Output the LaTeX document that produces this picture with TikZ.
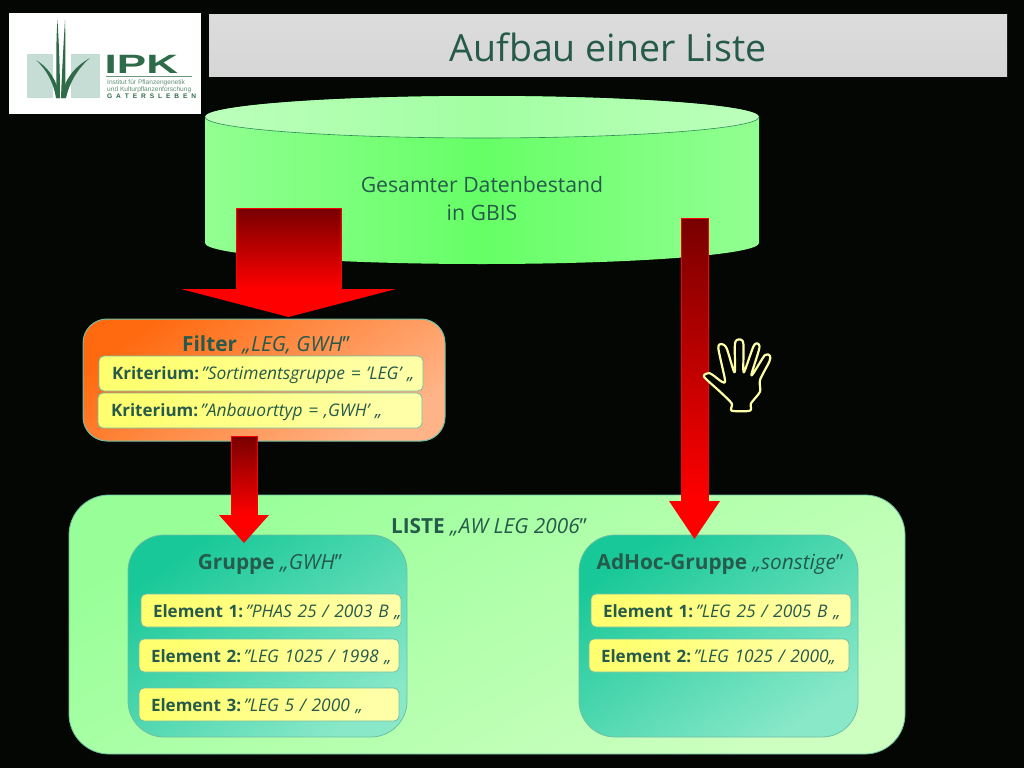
\documentclass[tikz,border=0pt]{standalone}
\usepackage{fontspec}
\usepackage{graphicx}
\setmainfont{Open Sans}
\newfontfamily\logofont{Liberation Sans}
\usetikzlibrary{calc}
\definecolor{bgblack}{HTML}{030603}
\definecolor{inkgreen}{HTML}{265A4A}
\definecolor{edgeteal}{HTML}{6FBFA5}
\definecolor{logogreen}{HTML}{2E6B48}
\definecolor{logopale}{HTML}{C6DDD6}
\definecolor{arrowdark}{HTML}{780000}
\definecolor{arrowred}{HTML}{FF0000}
\definecolor{yellowa}{HTML}{FFFF70}
\definecolor{yellowb}{HTML}{FFFFA8}
\definecolor{tealA}{HTML}{18C898}
\definecolor{tealB}{HTML}{88E8C8}
\definecolor{barA}{HTML}{DCDCDC}
\definecolor{barB}{HTML}{D6D6D6}
\definecolor{cylA}{HTML}{92FF92}
\definecolor{cylB}{HTML}{66FF66}
\definecolor{capA}{HTML}{BCFFBC}
\definecolor{capB}{HTML}{A2FFA2}
\definecolor{capedge}{HTML}{2E8B57}
\definecolor{orangeA}{HTML}{FF6A10}
\definecolor{orangeB}{HTML}{FFB488}
\definecolor{listA}{HTML}{98FF98}
\definecolor{listB}{HTML}{CCFFC0}
\tikzset{
  boxtext/.style={text=inkgreen,font=\fontsize{17}{20}\selectfont},
  elbox/.style={rounded corners=5pt,draw=edgeteal,line width=0.8pt,top color=yellowa,bottom color=yellowb,
    shading angle=60,minimum width=260pt,minimum height=33pt,text width=252pt,inner xsep=4pt,inner ysep=0pt,align=left,boxtext},
  kritbox/.style={elbox,minimum width=324pt,minimum height=35pt,text width=316pt},
  groupbox/.style={rounded corners=36pt,draw=edgeteal,line width=0.8pt,top color=tealA,bottom color=tealB,
    shading angle=35,minimum width=279pt,minimum height=202pt,inner sep=0pt},
  heading/.style={text=inkgreen,font=\fontsize{20.8}{24}\selectfont,inner sep=0pt},
  cyltext/.style={text=inkgreen,font=\fontsize{21.2}{28}\selectfont,align=center,inner sep=0pt},
}
\newcommand{\dq}{\symbol{34}}
\newcommand{\sq}{\symbol{39}}
\newcommand{\rowtext}[4]{\hspace*{#1pt}\raisebox{-#4pt}[0pt][0pt]{\textbf{#2}\hspace{2.5pt}{\fontsize{17.4}{20}\selectfont\textit{#3}}}}
\newcommand{\gs}{\hspace{3.9pt}}
\newcommand{\blockarrow}[5]{%
  \shade[top color=arrowdark,bottom color=arrowred,draw=arrowred,line width=0.4pt] let \p1=(#1),\p2=(#2) in
    (\x1-#3pt,\y1) rectangle (\x1+#3pt,\y2+#5pt);
  \fill[arrowred] let \p1=(#1),\p2=(#2) in
    (\x1-#4pt,\y2+#5pt) -- (\x1+#4pt,\y2+#5pt) -- (\x2,\y2) -- cycle;
}
\begin{document}
\begin{tikzpicture}[x=1pt,y=-1pt]
\useasboundingbox (0,0) rectangle (1024,768);
\fill[bgblack] (0,0) rectangle (1024,768);

% logo
\fill[white] (9,13) rectangle (201,114);
\fill[logopale] (27,54) rectangle (53,98);
\fill[logopale] (71,54) rectangle (100,98);
\fill[logogreen] (56,98) .. controls (57,70) and (55.5,45) .. (57.5,20) .. controls (59,45) and (60,70) .. (60,98) -- cycle;
\fill[logogreen] (61,98) .. controls (62,70) and (63.5,45) .. (65,20) .. controls (65.8,45) and (65.5,70) .. (65,98) -- cycle;
\fill[logogreen] (56,98) .. controls (54,84) and (47,70) .. (36,60) .. controls (49,68) and (57,80) .. (60,98) -- cycle;
\fill[logogreen] (61,98) .. controls (64,80) and (74,67) .. (90,58) .. controls (77,69) and (69,84) .. (66,98) -- cycle;
\node[text=logogreen,font=\logofont\fontsize{26.5}{26.5}\bfseries\selectfont,inner sep=0pt,anchor=base west] (ipk) at (104.5,74) {\scalebox{1.66}[1]{IPK}};
\draw[logogreen!70,line width=0.6pt] (106,76.5) -- (192,76.5);
\node[text=logogreen!75,font=\logofont\fontsize{6.6}{6.6}\selectfont,inner sep=0pt,anchor=base west] (ipka) at (107,84) {Institut für Pflanzengenetik};
\node[text=logogreen!75,font=\logofont\fontsize{6.6}{6.6}\selectfont,inner sep=0pt,anchor=base west] (ipkb) at (107,91) {und Kulturpflanzenforschung};
\node[text=logogreen,font=\logofont\fontsize{6.6}{6.6}\bfseries\selectfont,inner sep=0pt,anchor=base west] (ipkc) at (107,98.5) {G\gs A\gs T\gs E\gs R\gs S\gs L\gs E\gs B\gs E\gs N};

% title
\shade[top color=barA,bottom color=barB] (209,15) rectangle (1007,76);
\node[text=inkgreen,font=\fontsize{37.5}{42}\selectfont,inner sep=0pt] (title) at (608,47) {Aufbau einer Liste};

% database cylinder
\shade[left color=cylA,right color=cylA,middle color=cylB]
  (205,117) -- (205,243) arc[start angle=180,end angle=0,x radius=277,y radius=21] -- (759,117)
  arc[start angle=0,end angle=-180,x radius=277,y radius=21] -- cycle;
\shade[left color=capA,right color=capA,middle color=capB] (482,117) ellipse[x radius=277,y radius=21];
\draw[capedge,line width=0.6pt] (205,117) arc[start angle=180,end angle=0,x radius=277,y radius=21];
\node[cyltext] (db) at (482,199) {Gesamter Datenbestand\\in GBIS};

% filter
\node[rounded corners=24pt,draw=edgeteal,line width=1pt,top color=orangeA,bottom color=orangeB,shading angle=35,
  minimum width=362pt,minimum height=122pt,inner sep=0pt] (filter) at (264,380) {};
\node[heading] (filtertitle) at (266,344.5) {\textbf{Filter} \textit{„LEG, GWH}\dq};
\node[kritbox] (krit1) at (261,373.5) {\rowtext{9}{Kriterium:}{\dq Sortimentsgruppe = \sq LEG\sq\ „}{6}};
\node[kritbox] (krit2) at (260,410.5) {\rowtext{9}{Kriterium:}{\dq Anbauorttyp = ‚GWH\sq\ „}{6}};

% list
\node[rounded corners=40pt,draw=edgeteal,line width=0.8pt,top color=listA,bottom color=listB,shading angle=30,
  minimum width=836pt,minimum height=259pt,inner sep=0pt] (liste) at (487,624.5) {};
\node[heading] (listetitle) at (489,527.5) {\textbf{LISTE} \textit{„AW LEG 2006}\dq};

\node[groupbox] (gruppe) at (267.5,636) {};
\node[heading] (gruppetitle) at (270,564.5) {\textbf{Gruppe} \textit{„GWH}\dq};
\node[elbox] (g1) at (271,610.5) {\rowtext{8}{Element 1:}{\dq PHAS 25 / 2003 B „}{6.8}};
\node[elbox] (g2) at (269,655.5) {\rowtext{8}{Element 2:}{\dq LEG 1025 / 1998 „}{6.8}};
\node[elbox] (g3) at (269,704.5) {\rowtext{8}{Element 3:}{\dq LEG 5 / 2000 „}{6.8}};

\node[groupbox] (adhoc) at (718.5,636) {};
\node[heading] (adhoctitle) at (720,564.5) {\textbf{AdHoc-Gruppe} \textit{„sonstige}\dq};
\node[elbox] (a1) at (721,610.5) {\rowtext{8}{Element 1:}{\dq LEG 25 / 2005 B „}{6.8}};
\node[elbox] (a2) at (719,655.5) {\rowtext{8}{Element 2:}{\dq LEG 1025 / 2000„}{6.8}};

% block arrows
\coordinate (a1s) at (288.5,208);
\coordinate (a1e) at (288.5,317);
\coordinate (a2s) at (244,436);
\coordinate (a2e) at (244,543);
\coordinate (a3s) at (694.5,218);
\coordinate (a3e) at (694.5,539);
\blockarrow{a1s}{a1e}{52.5}{107.5}{28}
\blockarrow{a2s}{a2e}{13}{25}{28}
\blockarrow{a3s}{a3e}{13.5}{25.5}{38}

% hand
\begin{scope}[shift={(680,320)},x=0.3333pt,y=-0.3333pt]
\draw[draw=yellowb,line width=2.2pt,line join=round,fill=bgblack]
  plot[smooth cycle,tension=0.45] coordinates {(155,272)(155,250)(120,215)(72,170)(90,160)(125,185)(135,180)(115,85)(125,72)(140,85)(160,150)(165,150)(165,70)(178,58)(190,70)(190,150)(195,150)(220,80)(232,70)(238,85)(215,160)(220,160)(255,105)(270,108)(268,125)(240,180)(240,215)(213,250)(210,272)};
\end{scope}
\end{tikzpicture}
\end{document}
